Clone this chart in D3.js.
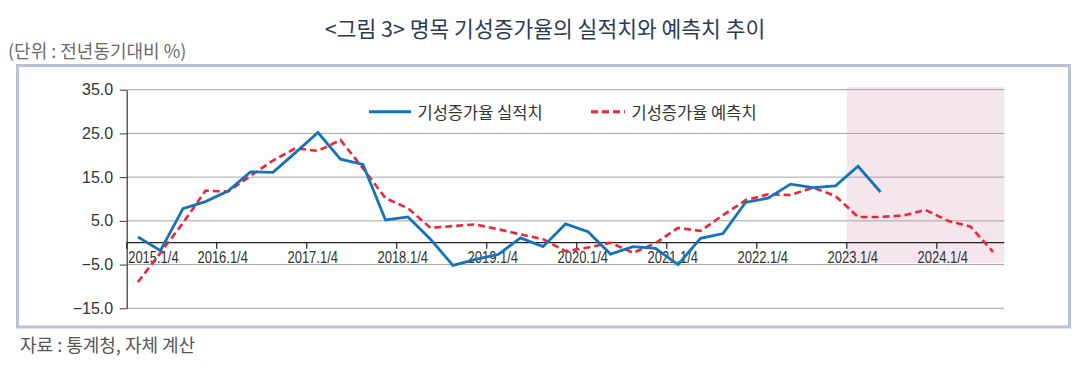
<!DOCTYPE html>
<html><head><meta charset="utf-8">
<script src="https://cdn.jsdelivr.net/npm/d3@7"></script>
<style>body{margin:0;background:#fff;} svg{display:block;}</style>
</head><body>
<svg id="c" width="1086" height="373"></svg>
<script>
const quarters = [
  "2015.1/4","2015.2/4","2015.3/4","2015.4/4",
  "2016.1/4","2016.2/4","2016.3/4","2016.4/4",
  "2017.1/4","2017.2/4","2017.3/4","2017.4/4",
  "2018.1/4","2018.2/4","2018.3/4","2018.4/4",
  "2019.1/4","2019.2/4","2019.3/4","2019.4/4",
  "2020.1/4","2020.2/4","2020.3/4","2020.4/4",
  "2021.1/4","2021.2/4","2021.3/4","2021.4/4",
  "2022.1/4","2022.2/4","2022.3/4","2022.4/4",
  "2023.1/4","2023.2/4","2023.3/4","2023.4/4",
  "2024.1/4","2024.2/4","2024.3/4"
];
const actual = [1.3, -1.8, 7.8, 9.4, 11.8, 16.2, 16.1, 20.6, 25.2, 19.1, 17.9, 5.2, 5.9, 0.8, -5.2, -3.8, -2.7, 1.1, -0.9, 4.3, 2.5, -2.6, -0.9, -1.3, -5.0, 1.0, 2.1, 9.2, 10.2, 13.4, 12.6, 13.0, 17.5, 11.6];
const forecast = [-9.0, -2.3, 4.5, 11.9, 11.7, 15.3, 18.8, 21.6, 21.0, 23.5, 17.0, 10.2, 7.9, 3.4, 3.8, 4.2, 3.1, 1.9, 0.8, -1.9, -1.1, 0.0, -2.3, -0.1, 3.4, 2.7, 6.3, 9.7, 11.1, 10.9, 12.6, 10.7, 5.9, 5.9, 6.2, 7.5, 5.0, 3.7, -2.1];
const yTicks = [-15, -5, 5, 15, 25, 35];
const xTickLabels = ["2015.1/4","2016.1/4","2017.1/4","2018.1/4","2019.1/4","2020.1/4","2021.1/4","2022.1/4","2023.1/4","2024.1/4"];
const forecastStart = "2023.1/4";
const seriesNames = ["기성증가율 실적치", "기성증가율 예측치"];
const titleText = "<그림 3> 명목 기성증가율의 실적치와 예측치 추이";
const unitText = "(단위 : 전년동기대비 %)";
const sourceText = "자료 : 통계청, 자체 계산";

const svg = d3.select("#c");
const plot = {left:126.7, right:1004.3, top:89.7, bottom:308.3};
const x = d3.scaleBand().domain(quarters).range([plot.left, plot.right]);
const y = d3.scaleLinear().domain([-15, 35]).range([plot.bottom, plot.top]);
const cx = d => x(d) + x.bandwidth() / 2;
const KR = "'Noto Sans CJK KR', 'Noto Sans', sans-serif";
const LAT = "'Liberation Sans', Arial, sans-serif";
const BLUE = "#1473b9", RED = "#ec2634";

// title
svg.append("text").attr("x", 545).attr("y", 27.5)
  .attr("text-anchor", "middle").attr("dominant-baseline", "central")
  .style("font-family", KR).style("font-size", "21.5px").attr("fill", "#2c3a58")
  .text(titleText);
// unit
svg.append("text").attr("x", 8).attr("y", 50)
  .attr("dominant-baseline", "central")
  .style("font-family", KR).style("font-size", "18px").attr("fill", "#6a6a6a")
  .text(unitText);
// frame
svg.append("rect").attr("x", 17.5).attr("y", 65.5).attr("width", 1052).attr("height", 261.5)
  .attr("fill", "#fff").attr("stroke", "#b9c1d5").attr("stroke-width", 3);
// source
svg.append("text").attr("x", 20).attr("y", 344)
  .attr("dominant-baseline", "central")
  .style("font-family", KR).style("font-size", "18px").attr("fill", "#555")
  .text(sourceText);

// forecast shading
svg.append("rect")
  .attr("x", x(forecastStart)).attr("y", y(35.6))
  .attr("width", plot.right - x(forecastStart)).attr("height", y(-4.6) - y(35.6))
  .attr("fill", "#f5e6ee");

// gridlines
svg.append("g").selectAll("line").data(yTicks).join("line")
  .attr("x1", plot.left).attr("x2", plot.right)
  .attr("y1", d => y(d)).attr("y2", d => y(d))
  .attr("stroke", "#a3a3a3").attr("stroke-width", 1);

// y axis
const yAxis = svg.append("g").attr("transform", `translate(${plot.left},0)`)
  .call(d3.axisLeft(y).tickValues(yTicks).tickSize(7).tickSizeOuter(0).tickPadding(6.5)
    .tickFormat(d3.format(".1f")));
yAxis.select(".domain").attr("stroke", "#333").attr("stroke-width", 1.2);
yAxis.selectAll(".tick line").attr("stroke", "#333");
yAxis.selectAll(".tick text").style("font-family", LAT).style("font-size", "16px").attr("fill", "#333");

// zero line
svg.append("line").attr("x1", plot.left).attr("x2", plot.right)
  .attr("y1", y(0)).attr("y2", y(0)).attr("stroke", "#222").attr("stroke-width", 1.3);

// x ticks & labels
const xg = svg.append("g");
xg.selectAll("line").data(xTickLabels).join("line")
  .attr("x1", d => x(d)).attr("x2", d => x(d))
  .attr("y1", y(0)).attr("y2", y(0) + 6).attr("stroke", "#222").attr("stroke-width", 1.2);
xg.selectAll("text").data(xTickLabels).join("text")
  .attr("y", 263.3).attr("text-anchor", "middle")
  .style("font-family", LAT).style("font-size", "16px").attr("fill", "#333")
  .text(d => d)
  .each(function(d) {
    const w = this.getComputedTextLength();
    const tw = w * 0.81;
    d3.select(this).attr("textLength", tw).attr("lengthAdjust", "spacingAndGlyphs");
    const xc = Math.max(x(d) + 6, plot.left + 1.5 + tw / 2);
    d3.select(this).attr("x", xc);
  });

// lines
const line = d3.line().x((d, i) => cx(quarters[i])).y(d => y(d));
svg.append("path").datum(forecast).attr("d", line)
  .attr("fill", "none").attr("stroke", RED).attr("stroke-width", 2.6)
  .attr("stroke-dasharray", "7,4");
svg.append("path").datum(actual).attr("d", line)
  .attr("fill", "none").attr("stroke", BLUE).attr("stroke-width", 2.8)
  .attr("stroke-linejoin", "miter");

// legend
const leg = [
  {name: seriesNames[0], color: BLUE, dash: null, x1: 369, x2: 411, tx: 417.5},
  {name: seriesNames[1], color: RED, dash: "7,4", x1: 591, x2: 625, tx: 631.5}
];
const ly = 111.7;
leg.forEach(l => {
  svg.append("line").attr("x1", l.x1).attr("x2", l.x2).attr("y1", ly).attr("y2", ly)
    .attr("stroke", l.color).attr("stroke-width", 3).attr("stroke-dasharray", l.dash);
  svg.append("text").attr("x", l.tx).attr("y", ly).attr("dominant-baseline", "central")
    .style("font-family", KR).style("font-size", "16.5px").attr("fill", "#333").text(l.name);
});
</script>
</body></html>
